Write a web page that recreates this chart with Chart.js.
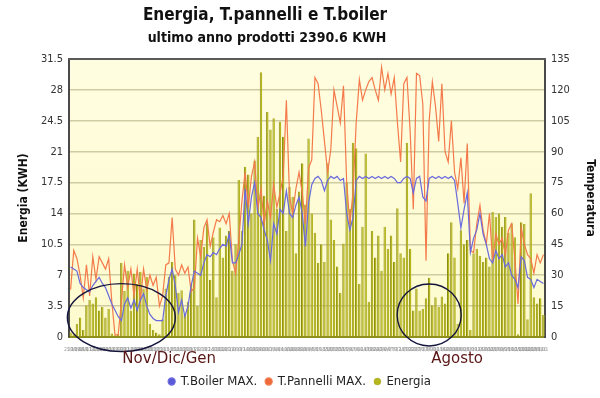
<!DOCTYPE html>
<html>
<head>
<meta charset="utf-8">
<script src="https://cdn.jsdelivr.net/npm/chart.js@4/dist/chart.umd.min.js"></script>
<style>
  html, body { margin: 0; padding: 0; background: #fff; }
  #box { width: 600px; height: 398px; }
</style>
</head>
<body>
<div id="box"><canvas id="energiaChart" width="600" height="398"></canvas></div>
<script>
// giorni (circa uno ogni 2-3 giorni)
const categories = [
  '25/10','27/10','30/10','1/11','4/11','6/11','9/11','11/11','14/11','16/11',
  '19/11','21/11','24/11','26/11','29/11','1/12','4/12','6/12','9/12','11/12',
  '14/12','16/12','19/12','21/12','24/12','26/12','29/12','31/12','3/1','5/1',
  '8/1','10/1','13/1','15/1','18/1','20/1','23/1','25/1','28/1','30/1',
  '2/2','4/2','7/2','9/2','12/2','14/2','17/2','19/2','22/2','24/2',
  '27/2','1/3','4/3','6/3','9/3','11/3','14/3','16/3','19/3','21/3',
  '24/3','26/3','29/3','31/3','3/4','5/4','8/4','10/4','13/4','15/4',
  '18/4','20/4','23/4','25/4','28/4','30/4','3/5','5/5','8/5','10/5',
  '13/5','15/5','18/5','20/5','23/5','25/5','28/5','30/5','2/6','4/6',
  '7/6','9/6','12/6','14/6','17/6','19/6','22/6','24/6','27/6','29/6',
  '2/7','4/7','7/7','9/7','12/7','14/7','17/7','19/7','22/7','24/7',
  '27/7','29/7','1/8','3/8','6/8','8/8','11/8','13/8','16/8','18/8',
  '21/8','23/8','26/8','28/8','31/8','2/9','5/9','7/9','10/9','12/9',
  '15/9','17/9','20/9','22/9','25/9','27/9','30/9','2/10','5/10','7/10',
  '10/10','12/10','15/10','17/10','20/10','22/10','25/10','27/10','30/10','1/11'
];

// KWH
const energia = [
  0.5,0.3,1.5,2.2,0.8,3.6,4.2,3.8,4.5,3.0,
  3.4,2.2,3.2,0.4,0.2,0.3,8.4,5.2,7.5,3.0,
  7.2,6.0,7.4,5.5,6.8,1.5,0.8,0.5,0.3,2.0,
  5.5,6.8,8.5,7.0,5.0,5.3,2.5,4.0,6.0,13.3,
  3.5,11.0,10.2,12.9,6.5,11.3,4.5,12.4,9.0,11.5,
  12.0,7.5,10.5,17.8,12.0,19.3,18.4,14.0,20.0,22.7,
  30.0,16.0,25.5,23.5,24.8,14.5,24.4,22.7,12.0,17.0,
  15.9,9.5,16.5,19.7,15.0,22.5,14.0,11.8,8.4,10.5,
  8.5,19.7,13.3,11.0,8.0,5.0,10.6,17.5,14.5,22.0,
  21.4,6.0,12.5,20.8,4.0,12.0,9.0,11.5,7.5,12.5,
  10.0,11.5,8.5,14.6,9.5,9.0,22.0,10.0,3.0,5.5,
  3.0,3.2,4.4,6.7,3.6,4.5,3.4,4.6,3.8,9.5,
  13.0,9.0,1.5,12.1,10.5,11.0,0.8,9.5,10.0,9.2,
  8.5,9.0,8.0,14.2,13.6,14.0,12.5,13.6,11.8,12.9,
  11.3,0.3,13.0,12.8,2.0,16.3,4.5,3.8,4.4,2.5
];

// gradi
const tPannelli = [
  23,42,38,30,19,35,20,39,28,39,
  36,33,38,17,1,1,17,35,24,33,
  20,33,18,33,23,30,25,29,15,20,
  35,36,58,33,30,35,31,34,22,24,
  48,39,53,57,44,51,57,56,59,55,
  60,37,31,47,66,80,63,78,85,62,
  72,55,66,58,74,63,70,78,115,68,
  60,72,80,70,55,82,86,126,123,110,
  95,80,91,120,112,104,122,75,55,70,
  104,125,115,120,124,126,120,115,131,120,
  128,118,126,104,85,123,126,100,62,128,
  127,113,37,105,124,112,95,123,90,85,
  105,80,72,87,65,94,42,41,55,64,
  52,45,60,37,50,45,48,40,52,55,
  38,16,53,45,40,38,31,40,36,40
];

const tBoiler = [
  34,33,32,26,24,23,22,25,27,29,
  26,24,20,16,13,10,8,16,19,14,
  18,13,18,21,15,11,9,8,8,8,
  20,28,33,25,12,18,10,15,25,32,
  31,30,36,40,39,41,40,43,45,44,
  50,36,36,40,45,72,55,68,75,60,
  58,52,47,37,55,50,62,60,71,60,
  58,64,68,60,44,65,74,77,78,76,
  71,76,78,77,78,76,77,60,52,58,
  76,78,77,78,77,78,77,78,77,78,
  77,78,77,75,75,77,78,77,70,77,
  78,68,66,77,78,77,78,77,78,77,
  78,76,65,53,62,70,41,48,52,60,
  50,45,38,36,42,38,40,34,36,30,
  28,24,39,37,29,28,24,28,27,26
];

const titolo = 'Energia, T.pannelli e T.boiler';
const sottotitolo = 'ultimo anno prodotti 2390.6 KWH';

const cond = "'DejaVu Sans Condensed', 'DejaVu Sans', sans-serif";
Chart.defaults.font.family = cond;
Chart.defaults.color = '#333';

// sfondo giallo dell'area, bordo sopra e titoli (spostati a sinistra come nell'originale)
const sfondo = {
  id: 'sfondo',
  beforeDraw(chart) {
    const { ctx, chartArea: a } = chart;
    ctx.save();
    ctx.fillStyle = '#fff';
    ctx.fillRect(0, 0, chart.width, chart.height);
    const g = ctx.createLinearGradient(0, a.top, 0, a.bottom);
    g.addColorStop(0, '#fffde0');
    g.addColorStop(1, '#fdfbcd');
    ctx.fillStyle = g;
    ctx.fillRect(a.left, a.top, a.right - a.left, a.bottom - a.top);
    ctx.restore();
  },
  afterDraw(chart) {
    const { ctx, chartArea: a } = chart;
    ctx.save();
    ctx.strokeStyle = '#5a5a5a';
    ctx.lineWidth = 2;
    ctx.beginPath();
    ctx.moveTo(a.left - 1, a.top);
    ctx.lineTo(a.right + 1, a.top);
    ctx.stroke();
    ctx.fillStyle = '#111';
    ctx.textAlign = 'center';
    ctx.textBaseline = 'middle';
    ctx.font = 'bold 17px ' + cond;
    ctx.fillText(titolo, 265, 16);
    ctx.font = 'bold 14px ' + cond;
    ctx.fillText(sottotitolo, 267, 38);
    ctx.restore();
  }
};

// cerchi e scritte aggiunti a mano sull'immagine
const note = {
  id: 'note',
  afterDraw(chart) {
    const { ctx, chartArea: a } = chart;
    const x = chart.scales.x, y = chart.scales.y;
    ctx.save();
    ctx.strokeStyle = '#14143c';
    ctx.lineWidth = 1.4;
    ctx.beginPath();
    ctx.ellipse(x.getPixelForValue(16), y.getPixelForValue(2.2), 54, 34, 0, 0, Math.PI * 2);
    ctx.stroke();
    ctx.beginPath();
    ctx.ellipse(x.getPixelForValue(113), y.getPixelForValue(2.5), 32, 31, 0, 0, Math.PI * 2);
    ctx.stroke();
    ctx.fillStyle = '#5a1515';
    ctx.font = "15px 'DejaVu Sans', sans-serif";
    ctx.textBaseline = 'alphabetic';
    ctx.fillText('Nov/Dic/Gen', x.getPixelForValue(16) + 1, a.bottom + 26);
    ctx.fillText('Agosto', x.getPixelForValue(113) + 2, a.bottom + 26);
    ctx.restore();
  }
};

new Chart(document.getElementById('energiaChart'), {
  data: {
    labels: categories,
    datasets: [{
      type: 'line',
      label: 'T.Boiler MAX.',
      data: tBoiler,
      yAxisID: 'y1',
      borderColor: '#6a6ade',
      backgroundColor: '#5a5ad8',
      borderWidth: 1.2,
      pointRadius: 0,
      order: 0
    }, {
      type: 'line',
      label: 'T.Pannelli MAX.',
      data: tPannelli,
      yAxisID: 'y1',
      borderColor: '#f47a4c',
      backgroundColor: '#ee6a3c',
      borderWidth: 1.2,
      pointRadius: 0,
      order: 1
    }, {
      type: 'bar',
      label: 'Energia',
      data: energia,
      yAxisID: 'y',
      backgroundColor: '#b6b61e',
      borderColor: '#8c8c14',
      borderWidth: { left: 1, top: 0, right: 0, bottom: 0 },
      borderSkipped: 'start',
      barPercentage: 1,
      categoryPercentage: 0.78,
      order: 2
    }]
  },
  options: {
    responsive: false,
    animation: false,
    devicePixelRatio: 1,
    layout: { padding: { left: 0, right: 0, top: 59, bottom: 0 } },
    plugins: {
      title: { display: false },
      legend: {
        position: 'bottom',
        labels: {
          usePointStyle: true,
          pointStyle: 'circle',
          boxWidth: 5,
          boxHeight: 5,
          padding: 9,
          color: '#222',
          font: { size: 13 }
        }
      },
      tooltip: { enabled: false }
    },
    scales: {
      x: {
        grid: { display: false },
        border: { color: '#8f8f1e', width: 2 },
        ticks: { autoSkip: false, maxRotation: 0, minRotation: 0, color: '#a0a0a0', font: { size: 5 }, padding: 2 },
        afterFit(s) { s.height = 29; }
      },
      y: {
        position: 'left',
        min: 0,
        max: 31.5,
        ticks: { stepSize: 3.5, padding: 6, color: '#333', font: { size: 11 } },
        grid: { color: '#cfcba2', lineWidth: 1.5, drawTicks: false },
        border: { color: '#4a4a4a', width: 2 },
        title: { display: true, text: 'Energia (KWH)', color: '#111', font: { size: 12, weight: 'bold' }, padding: { top: 17 } },
        afterFit(s) { s.width = 69; }
      },
      y1: {
        position: 'right',
        min: 0,
        max: 135,
        ticks: { stepSize: 15, padding: 6, color: '#333', font: { size: 11 } },
        grid: { display: false, drawTicks: false },
        border: { color: '#4a4a4a', width: 2 },
        title: { display: true, text: 'Temperatura', color: '#111', font: { size: 12, weight: 'bold' }, padding: { top: 3 } },
        afterFit(s) { s.width = 55; }
      }
    }
  },
  plugins: [sfondo, note]
});
</script>
</body>
</html>
